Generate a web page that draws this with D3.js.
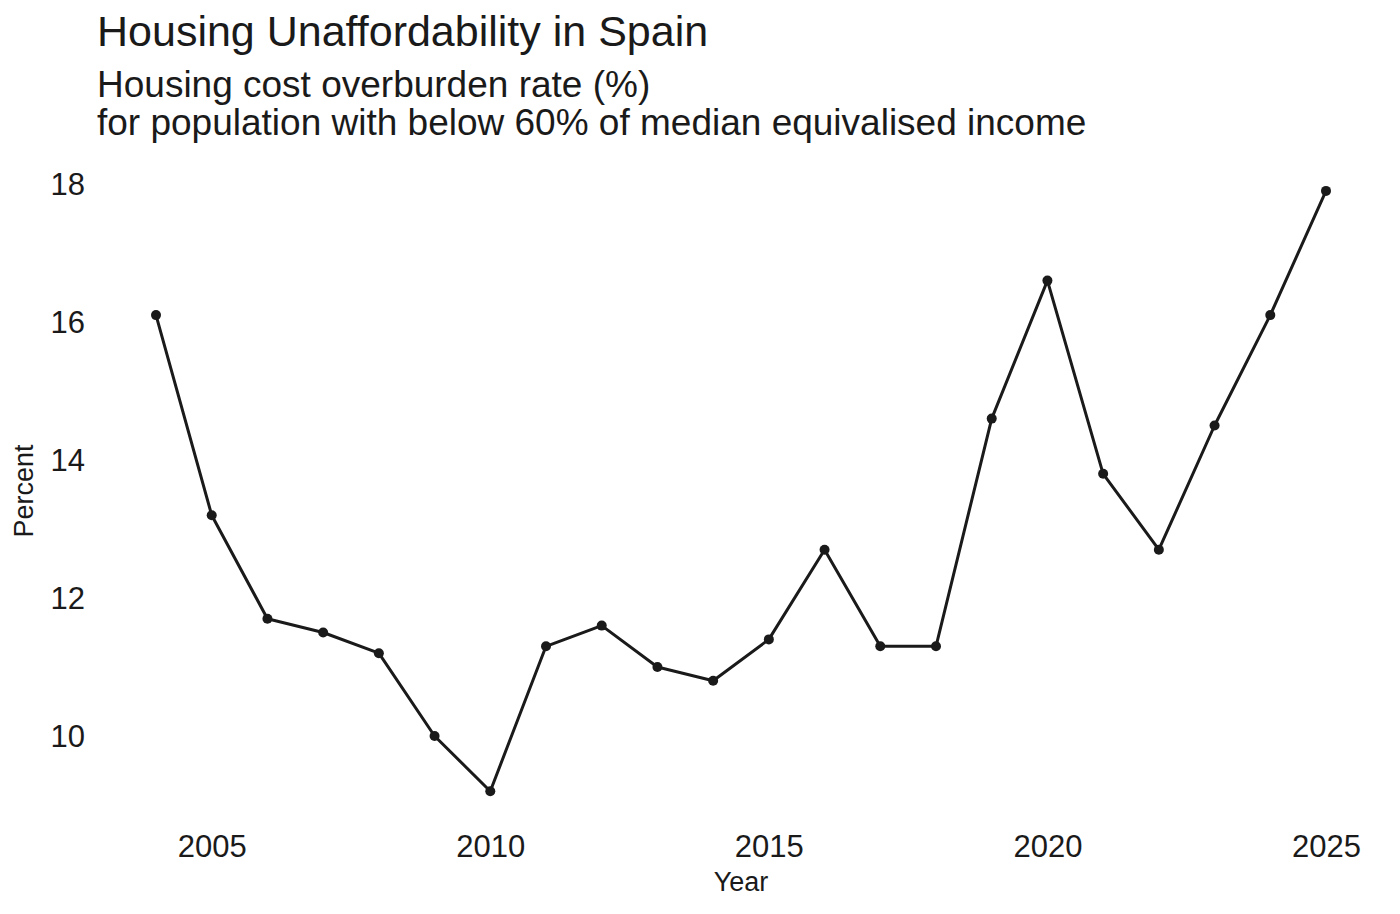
<!DOCTYPE html>
<html>
<head>
<meta charset="utf-8">
<script src="https://cdn.jsdelivr.net/npm/d3@7"></script>
<style>
  body { margin: 0; background: #fff; }
  text { font-family: "Liberation Sans", Arial, Helvetica, sans-serif; fill: #1a1a1a; }
</style>
</head>
<body>
<div id="chart"></div>
<script>
// data
const years = [2004, 2005, 2006, 2007, 2008, 2009, 2010, 2011, 2012, 2013, 2014,
               2015, 2016, 2017, 2018, 2019, 2020, 2021, 2022, 2023, 2024, 2025];
const rates = [16.1, 13.2, 11.7, 11.5, 11.2, 10.0, 9.2, 11.3, 11.6, 11.0, 10.8,
               11.4, 12.7, 11.3, 11.3, 14.6, 16.6, 13.8, 12.7, 14.5, 16.1, 17.9];
const xTicks = [2005, 2010, 2015, 2020, 2025];
const yTicks = [10, 12, 14, 16, 18];

const titleText = "Housing Unaffordability in Spain";
const subtitleLines = ["Housing cost overburden rate (%)",
                       "for population with below 60% of median equivalised income"];

const W = 1400, H = 914;

const svg = d3.select("#chart").append("svg")
    .attr("width", W)
    .attr("height", H);

// scales
const x = d3.scaleLinear().domain([2004, 2025]).range([156, 1326]);
const y = d3.scaleLinear().domain([10, 18]).range([736, 184]);

// title + subtitle
svg.append("text")
    .attr("x", 97).attr("y", 46)
    .style("font-size", "43px")
    .text(titleText);

svg.selectAll(".subtitle")
    .data(subtitleLines)
    .enter().append("text")
    .attr("class", "subtitle")
    .attr("x", 97)
    .attr("y", (d, i) => 97 + i * 38)
    .style("font-size", "37px")
    .text(d => d);

// axes, no lines, just labels
const xAxis = svg.append("g")
    .attr("transform", "translate(0,826)")
    .call(d3.axisBottom(x).tickValues(xTicks).tickFormat(d3.format("d")).tickSize(0).tickPadding(0));
xAxis.select(".domain").remove();
xAxis.selectAll("text")
    .attr("dy", "1em")
    .style("font-size", "31px")
    .style("font-family", null);

const yAxis = svg.append("g")
    .attr("transform", "translate(85,0)")
    .call(d3.axisLeft(y).tickValues(yTicks).tickSize(0).tickPadding(0));
yAxis.select(".domain").remove();
yAxis.selectAll("text")
    .attr("dy", "0.34em")
    .style("font-size", "31px")
    .style("font-family", null);

// axis titles
svg.append("text")
    .attr("x", 741).attr("y", 891)
    .attr("text-anchor", "middle")
    .style("font-size", "27px")
    .text("Year");

svg.append("text")
    .attr("transform", "translate(33,491) rotate(-90)")
    .attr("text-anchor", "middle")
    .style("font-size", "27px")
    .text("Percent");

// line + points
const pts = years.map((yr, i) => ({year: yr, value: rates[i]}));

const line = d3.line()
    .x(d => x(d.year))
    .y(d => y(d.value));

svg.append("path")
    .datum(pts)
    .attr("d", line)
    .attr("fill", "none")
    .attr("stroke", "#1a1a1a")
    .attr("stroke-width", 3)
    .attr("stroke-linejoin", "round");

svg.selectAll(".dot")
    .data(pts)
    .enter().append("circle")
    .attr("class", "dot")
    .attr("cx", d => x(d.year))
    .attr("cy", d => y(d.value))
    .attr("r", 5)
    .attr("fill", "#1a1a1a");
</script>
</body>
</html>
